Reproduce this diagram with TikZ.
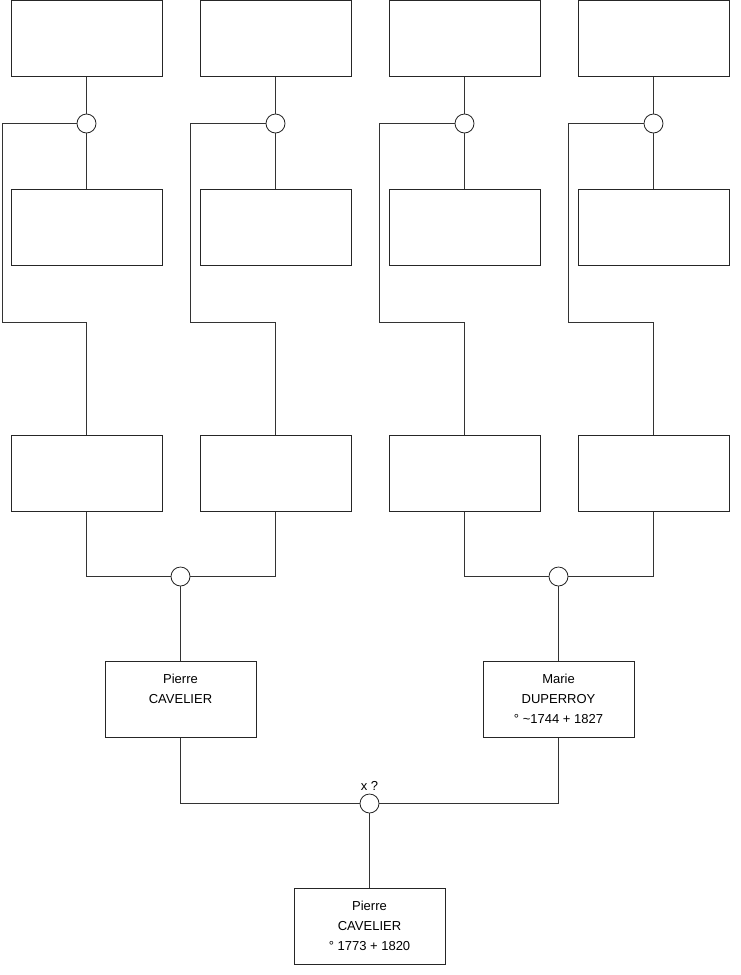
\documentclass[tikz,border=0pt]{standalone}
\usepackage{fontspec}
\setmainfont{Liberation Sans}
\begin{document}
\begin{tikzpicture}[x=1pt,y=-1pt,
  box/.style={draw=black!85,line width=1pt,minimum width=151pt,minimum height=76pt,inner sep=0pt,fill=white},
  junc/.style={draw=black!85,circle,line width=0.8pt,minimum size=19pt,inner sep=0pt,fill=white},
  lbl/.style={anchor=north,align=center,font=\fontsize{13}{20}\selectfont,inner sep=0pt},
  conn/.style={draw=black!80,line width=1pt}]
\useasboundingbox (0,0) rectangle (740,975);
% top row
\foreach \i/\cx in {1/86.5,2/275.5,3/464.5,4/653.5}{
  \node[box] (a\i) at (\cx,38.25) {};
  \node[box] (b\i) at (\cx,227) {};
  \node[box] (c\i) at (\cx,473) {};
}
\node[junc] (j1) at (86.5,123.5) {};
\node[junc] (j2) at (275.5,123.5) {};
\node[junc] (j3) at (464.5,123.5) {};
\node[junc] (j4) at (653.5,123.5) {};
\coordinate (l1) at (2,123.5);
\coordinate (l2) at (190.5,123.5);
\coordinate (l3) at (379.5,123.5);
\coordinate (l4) at (568.5,123.5);
\foreach \i in {1,2,3,4}{
  \draw[conn] (a\i.south) -- (j\i.north);
  \draw[conn] (j\i.south) -- (b\i.north);
  \draw[conn] (j\i.west) -- (l\i) -- (l\i |- 0,322) -| (c\i.north);
}
% second level
\node[junc] (k1) at (180.5,576.5) {};
\node[junc] (k2) at (558.5,576.5) {};
\draw[conn] (c1.south) |- (k1.west);
\draw[conn] (c2.south) |- (k1.east);
\draw[conn] (c3.south) |- (k2.west);
\draw[conn] (c4.south) |- (k2.east);
\node[box] (p) at (180.5,699) {};
\node[lbl] (pt) at (180.5,673.5) {Pierre\\CAVELIER};
\node[box] (m) at (558.5,699) {};
\node[lbl] (mt) at (558.5,673.5) {Marie\\DUPERROY\\° \textasciitilde1744 + 1827};
\draw[conn] (k1.south) -- (p.north);
\draw[conn] (k2.south) -- (m.north);
% bottom
\node[junc] (z) at (369.5,803.5) {};
\node[anchor=south,font=\fontsize{13}{15}\selectfont,inner sep=0pt] (zl) at (369.5,791) {x ?};
\draw[conn] (p.south) |- (z.west);
\draw[conn] (m.south) |- (z.east);
\node[box] (c) at (369.5,926) {};
\node[lbl] (ct) at (369.5,900.5) {Pierre\\CAVELIER\\° 1773 + 1820};
\draw[conn] (z.south) -- (c.north);
\end{tikzpicture}
\end{document}
